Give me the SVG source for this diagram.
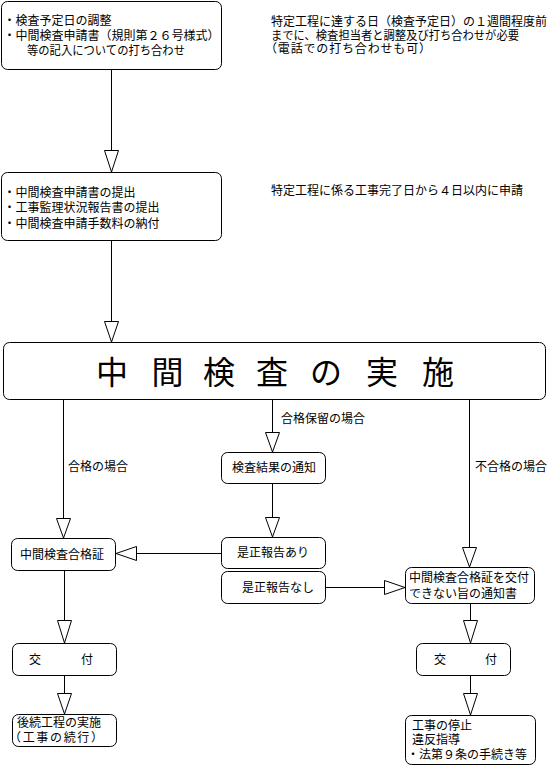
<svg xmlns="http://www.w3.org/2000/svg" width="547" height="767" viewBox="0 0 547 767">
<style>
.bx{fill:#fff;stroke:#000;stroke-width:1}
.ln{fill:none;stroke:#000;stroke-width:1}
.ah{fill:#fff;stroke:#000;stroke-width:1}
text{font-family:"Noto Sans CJK JP","Noto Sans CJK SC",sans-serif;font-size:12px;fill:#000}
.title{font-size:32px}
</style>
<rect width="547" height="767" fill="#fff"/>
<g id="connectors">
<path class="ln" d="M111.5,70 V150 M111.5,241 V321 M63.5,400 V518 M272.5,400 V432 M469.5,400 V547 M272.5,483 V517 M221,553.5 H136 M326,587.5 H384 M64.5,570 V620 M64.5,675 V693 M470.5,604 V620 M470.5,675 V693"/>
<polygon class="ah" points="104.5,150.5 118.5,150.5 111.5,172"/>
<polygon class="ah" points="104.5,321.5 118.5,321.5 111.5,342"/>
<polygon class="ah" points="56.5,518.5 70.5,518.5 63.5,538"/>
<polygon class="ah" points="265.5,432.5 279.5,432.5 272.5,452"/>
<polygon class="ah" points="462.5,547.5 476.5,547.5 469.5,567"/>
<polygon class="ah" points="265.5,517.5 279.5,517.5 272.5,537"/>
<polygon class="ah" points="136.5,546.5 136.5,560.5 116,553.5"/>
<polygon class="ah" points="384.5,580.5 384.5,594.5 405,587.5"/>
<polygon class="ah" points="57.5,620.5 71.5,620.5 64.5,643"/>
<polygon class="ah" points="57.5,693.5 71.5,693.5 64.5,714"/>
<polygon class="ah" points="463.5,620.5 477.5,620.5 470.5,643"/>
<polygon class="ah" points="463.5,693.5 477.5,693.5 470.5,715"/>
</g>
<g id="node-schedule">
<rect class="bx" x="1.5" y="1.5" width="220" height="68" rx="6"/>
<text x="3.5" y="24.6">・検査予定日の調整</text>
<text x="3.5" y="39.6">・中間検査申請書（規則第２６号様式）</text>
<text x="27" y="54.6" textLength="158" lengthAdjust="spacingAndGlyphs">等の記入についての打ち合わせ</text>
</g>
<g id="note-schedule">
<text x="271" y="25.6">特定工程に達する日（検査予定日）の１週間程度前</text>
<text x="271" y="39.6" textLength="248" lengthAdjust="spacingAndGlyphs">までに、検査担当者と調整及び打ち合わせが必要</text>
<text x="265" y="53" textLength="166" lengthAdjust="spacing">（電話での打ち合わせも可）</text>
</g>
<g id="node-application">
<rect class="bx" x="1.5" y="172.5" width="220" height="68" rx="6"/>
<text x="3.5" y="196.6">・中間検査申請書の提出</text>
<text x="3.5" y="212.1">・工事監理状況報告書の提出</text>
<text x="3.5" y="227.6">・中間検査申請手数料の納付</text>
</g>
<g id="note-application">
<text x="271" y="194.6">特定工程に係る工事完了日から４日以内に申請</text>
</g>
<g id="node-inspection">
<rect class="bx" x="3.5" y="342.5" width="542" height="57" rx="6"/>
<text class="title" text-anchor="middle" y="384" x="112 140 167.5 193 219 245 272 299 326 354 382 410 438">中 間 検 査 の 実 施</text>
</g>
<g id="labels">
<text x="281" y="422.6">合格保留の場合</text>
<text x="68" y="470.6">合格の場合</text>
<text x="475" y="470.6">不合格の場合</text>
</g>
<g id="node-result">
<rect class="bx" x="221.5" y="452.5" width="104" height="31" rx="6"/>
<text x="232" y="471.6">検査結果の通知</text>
</g>
<g id="node-report-yes">
<rect class="bx" x="221.5" y="537.5" width="104" height="31" rx="6"/>
<text x="237" y="556.6">是正報告あり</text>
</g>
<g id="node-report-no">
<rect class="bx" x="221.5" y="571.5" width="104" height="32" rx="6"/>
<text x="242" y="591.6">是正報告なし</text>
</g>
<g id="node-certificate">
<rect class="bx" x="11.5" y="538.5" width="104" height="32" rx="6"/>
<text x="20" y="558.6">中間検査合格証</text>
</g>
<g id="node-refusal">
<rect class="bx" x="405.5" y="567.5" width="129" height="36" rx="6"/>
<text x="409" y="582.1">中間検査合格証を交付</text>
<text x="409" y="598.1">できない旨の通知書</text>
</g>
<g id="node-issue-left">
<rect class="bx" x="12.5" y="643.5" width="104" height="32" rx="6"/>
<text x="29" y="663.6" letter-spacing="1">交　　　付</text>
</g>
<g id="node-issue-right">
<rect class="bx" x="416.5" y="643.5" width="94" height="32" rx="6"/>
<text x="434" y="663.6" letter-spacing="0.75">交　　　付</text>
</g>
<g id="node-continue">
<rect class="bx" x="12.5" y="714.5" width="104" height="32" rx="6"/>
<text x="17" y="727.1">後続工程の実施</text>
<text x="9" y="742.1" textLength="94" lengthAdjust="spacing">（工事の続行）</text>
</g>
<g id="node-stop">
<rect class="bx" x="405.5" y="715.5" width="130" height="49" rx="6"/>
<text x="412" y="729.6">工事の停止</text>
<text x="412" y="743.6">違反指導</text>
<text x="407" y="758.6">・法第９条の手続き等</text>
</g>
</svg>
